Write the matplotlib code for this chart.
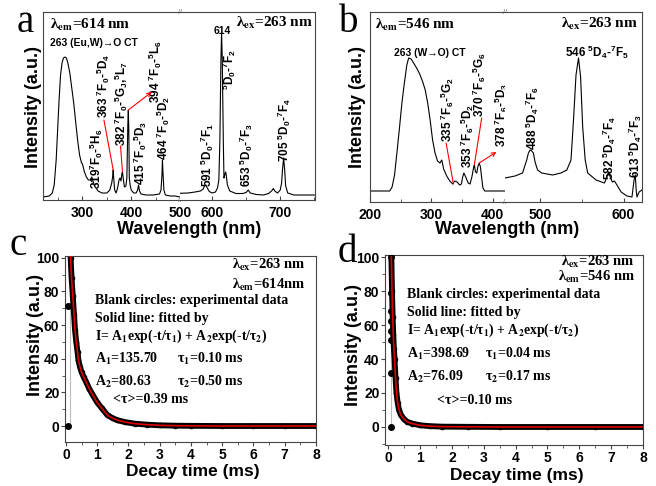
import matplotlib
matplotlib.use('Agg')
import matplotlib.pyplot as plt
from matplotlib.ticker import MultipleLocator, FixedLocator

plt.rcParams['font.family'] = ['Liberation Sans', 'DejaVu Sans']
plt.rcParams['font.weight'] = 'bold'
plt.rcParams['mathtext.fontset'] = 'custom'
plt.rcParams['mathtext.rm'] = 'Liberation Sans:bold'
plt.rcParams['mathtext.it'] = 'Liberation Sans:bold'
plt.rcParams['mathtext.bf'] = 'Liberation Sans:bold'
plt.rcParams['mathtext.default'] = 'rm'

# ---------------- data ----------------
# panel a: excitation (lambda_em = 614 nm)
a_exc_wl = [219, 232, 238, 242, 246, 249, 252, 255, 258, 261, 264, 267, 270, 274, 278, 282, 286, 290,
            294, 298, 300, 302, 304, 308, 312, 316, 319, 322, 326, 332, 340, 350, 356, 360, 362, 363,
            364, 366, 369, 372, 375, 377, 379, 381, 382, 384, 386, 389, 391, 393, 394, 395, 396, 398,
            400, 405, 410, 413, 415, 417, 420, 430, 445, 458, 461, 463, 464, 465, 467, 470, 480, 490, 500]
a_exc_int = [3, 4, 7, 15, 40, 70, 100, 125, 137, 142, 143, 142, 137, 127, 112, 97, 78, 60,
             45, 37, 36, 32, 28, 23, 20, 20, 23, 18, 13, 9, 7, 7, 10, 17, 24, 30,
             22, 10, 7, 12, 20, 22, 19, 27, 28, 20, 13, 14, 22, 75, 90, 70, 22, 14,
             10, 7, 7, 10, 15, 9, 6, 5, 5, 6, 10, 25, 40, 28, 10, 5, 4, 4, 3]
# panel a: emission (lambda_ex = 263 nm)
a_em_wl = [553, 565, 575, 583, 587, 589, 591, 593, 596, 600, 605, 608, 610, 611.5, 613, 614, 615,
           616.5, 617.5, 619, 620, 621, 622.5, 626, 635, 645, 650, 653, 656, 665, 675, 683, 688,
           690, 692, 696, 700, 702, 703.5, 705, 706.5, 708, 711, 720, 735, 751]
a_em_int = [6.7, 7, 8, 9, 11, 14, 15, 12, 8.5, 7, 8, 12, 20, 60, 140, 167, 140,
            60, 22, 26, 28, 24, 15, 9, 6.5, 6.5, 7.5, 10, 7, 5.5, 5, 6.5, 9.5,
            11.5, 9, 7, 10, 17, 32, 42, 30, 14, 7, 5, 5, 5]
# panel b: excitation (lambda_em = 546 nm)
b_exc_wl = [200, 232, 236, 240, 244, 248, 252, 256, 260, 263, 267, 271, 276, 281, 286, 290, 294, 298,
            302, 306, 310, 314, 317, 320, 325, 330, 335, 338, 342, 346, 349, 351, 353, 356, 360, 363,
            366, 369, 370, 372, 374, 376, 378, 380, 382, 384, 387, 420]
b_exc_int = [11, 11, 15, 27, 50, 74, 99, 119, 137, 144, 143, 139, 134, 128, 120, 112, 99, 82,
             62, 49, 41, 39, 42, 33, 26, 21, 18, 21, 20, 17, 18, 25, 29, 25, 19, 18,
             25, 35, 37, 30, 29, 36, 39, 35, 24, 14, 11, 11]
# panel b: emission (lambda_ex = 263 nm)
b_em_wl = [458, 470, 479, 484, 486, 488, 490, 492, 494, 497, 502, 515, 525, 532, 537, 540, 543, 546,
           548.5, 551, 554, 557, 567, 577, 579, 582, 584, 586.5, 589, 592, 597, 604, 610, 612.5,
           614, 615, 616, 618.5, 622]
b_em_int = [24, 26, 29, 42, 49, 52, 51, 49, 40, 32, 29, 27, 29, 32, 42, 82, 127, 144,
            125, 75, 42, 29, 22, 19, 23, 30, 25, 20, 21, 17, 10, 6, 5, 22,
            27, 12, 5, 10, 12]

# panel c: decay (lambda_ex 263 / lambda_em 614)
c_t = [0.12, 0.15, 0.18, 0.22, 0.26, 0.29, 0.33, 0.37, 0.40, 0.45, 0.50, 0.57, 0.65, 0.75, 0.84,
       1.0, 1.15, 1.33, 1.5, 1.65, 1.9, 2.2, 2.6, 3.0, 3.5, 4, 5, 6, 7, 8]
c_I = [112, 100, 88, 77, 66, 57, 50, 44, 39, 35, 32, 29, 26, 22, 19,
       14, 10.5, 6.4, 4.6, 3.4, 2.3, 1.4, 0.8, 0.4, 0.2, 0.1, 0, 0, 0, 0]
c_rise_t = [0.07, 0.07]
c_rise_I = [0, 71]
c_gate_t = [0.13, 0.13]
c_gate_I = [0, 100]
# panel d: decay (lambda_ex 263 / lambda_em 546)
d_t = [0.1, 0.12, 0.14, 0.16, 0.18, 0.2, 0.23, 0.26, 0.3, 0.34, 0.4, 0.5, 0.6, 0.76, 1.0,
       1.3, 1.7, 2.5, 3.5, 5, 6.5, 8]
d_I = [100, 80, 65, 54, 46, 40, 29, 20, 14, 10, 7, 4.5, 3, 2, 1,
       0.5, 0.2, 0.1, 0, 0, 0, 0]
d_rise_t = [0.1, 0.1, 0.1, 0.1, 0.1, 0.1, 0.1, 0.1]
d_rise_I = [0, 31.5, 51, 56.5, 62.4, 68, 79, 100]
d_gate_t = [0.1, 0.1]
d_gate_I = [0, 100]

# ---------------- layout helpers ----------------
W, H = 656, 486
fig = plt.figure(figsize=(W / 100, H / 100), dpi=100)


def box(x0, y0, x1, y1):
    return [x0 / W, 1 - y1 / H, (x1 - x0) / W, (y1 - y0) / H]


def fpos(x, y):
    return x / W, 1 - y / H


def term(a, L, b):
    return '${}^{%s}$%s${}_{%s}$' % (a, L, b)


SPINE = '#444444'
SERIF = ['Liberation Serif', 'DejaVu Serif']


def style_spec(ax, left=True, right=True):
    for s in ax.spines.values():
        s.set_color(SPINE)
        s.set_linewidth(0.8)
    ax.spines['left'].set_visible(left)
    ax.spines['right'].set_visible(right)
    ax.set_yticks([])
    ax.tick_params(axis='x', direction='in', length=3, width=0.8, labelsize=10, pad=4, color=SPINE)
    ax.tick_params(axis='x', which='minor', direction='in', length=2, width=0.6, color=SPINE)


def rlab(ax, x, y, s, fs=8.5):
    ax.text(x, y, s, rotation=90, ha='center', va='bottom', fontsize=fs, fontweight='bold')


def lam(ax, x, y, sub, val, ha, fs=11):
    ax.text(x, y, 'λ$_{\\mathbf{%s}}$=%s' % (sub, val), ha=ha, va='center', fontsize=fs,
            fontweight='bold', family=SERIF, math_fontfamily='stix')


def redline(ax, xy, xytext, arrow=False):
    ax.annotate('', xy=xy, xytext=xytext,
                arrowprops=dict(arrowstyle='->' if arrow else '-', color='red', lw=0.8,
                                shrinkA=0, shrinkB=0, mutation_scale=7))


def breakmarks(ax):
    for yy in (1, 0):
        ax.text(1, yy, '//', transform=ax.transAxes, ha='center', va='center', fontsize=5,
                color='#666666', fontweight='normal')

# ---------------- panel a ----------------
a1 = fig.add_axes(box(43, 12, 180, 200))
a2 = fig.add_axes(box(180, 12, 315, 200))
a1.plot(a_exc_wl, a_exc_int, color='black', lw=0.8)
a2.plot(a_em_wl, a_em_int, color='black', lw=0.8)
a1.set_xlim(219, 500)
a2.set_xlim(553, 751)
for ax in (a1, a2):
    ax.set_ylim(0, 188)
style_spec(a1, right=False)
style_spec(a2, left=False)
a1.xaxis.set_major_locator(FixedLocator([300, 400, 500]))
a1.xaxis.set_minor_locator(FixedLocator([250, 350, 450]))
a2.xaxis.set_major_locator(FixedLocator([600, 700]))
a2.xaxis.set_minor_locator(FixedLocator([650, 750]))
breakmarks(a1)

lam(a1, 233, 175, 'em', '614 nm', 'left')
a1.text(233, 157, '263 (Eu,W)→O CT', ha='left', va='center', fontsize=7.5, fontweight='bold')
rlab(a1, 328, 11, '319' + term('7', 'F', '0') + '-' + term('5', 'H', '6'))
rlab(a1, 343, 82, '363 ' + term('7', 'F', '0') + '-' + term('5', 'D', '4'))
redline(a1, (363, 30), (344, 80))
rlab(a1, 379, 54, '382 ' + term('7', 'F', '0') + '-' + '${}^{5}$G${}_{J}$,' + term('5', 'L', '7'))
redline(a1, (382, 28), (378, 54))
rlab(a1, 449, 97, '394 ' + term('7', 'F', '0') + '-' + term('5', 'L', '6'))
redline(a1, (442, 108), (394, 90), arrow=True)
rlab(a1, 418, 15, '415 ' + term('7', 'F', '0') + '-' + term('5', 'D', '3'))
rlab(a1, 465, 40, '464 ' + term('7', 'F', '0') + '-' + term('5', 'D', '2'))

lam(a2, 748, 177, 'ex', '263 nm', 'right')
rlab(a2, 593, 13, '591 ' + term('5', 'D', '0') + '-' + term('7', 'F', '1'))
a2.text(614.5, 169, '614', ha='center', va='center', fontsize=7.5, fontweight='bold')
rlab(a2, 625, 110, term('5', 'D', '0') + '-' + term('7', 'F', '2'))
rlab(a2, 650, 13, '653 ' + term('5', 'D', '0') + '-' + term('7', 'F', '3'))
rlab(a2, 705.5, 38, '705 ' + term('5', 'D', '0') + '-' + term('7', 'F', '4'))

# ---------------- panel b ----------------
b1 = fig.add_axes(box(370, 12, 505, 202))
b2 = fig.add_axes(box(505, 12, 642, 202))
b1.plot(b_exc_wl, b_exc_int, color='black', lw=0.8)
b2.plot(b_em_wl, b_em_int, color='black', lw=0.8)
b1.set_xlim(200, 420)
b2.set_xlim(458, 622)
for ax in (b1, b2):
    ax.set_ylim(0, 190)
style_spec(b1, right=False)
style_spec(b2, left=False)
b1.xaxis.set_major_locator(FixedLocator([200, 300, 400]))
b1.xaxis.set_minor_locator(FixedLocator([250, 350]))
b2.xaxis.set_major_locator(FixedLocator([500, 600]))
b2.xaxis.set_minor_locator(FixedLocator([550]))
breakmarks(b1)

lam(b1, 208, 177, 'em', '546 nm', 'left')
b1.text(298, 149, '263 (W→O) CT', ha='center', va='center', fontsize=7.5, fontweight='bold')
rlab(b1, 325.5, 60, '335 ' + term('7', 'F', '6') + '-' + term('5', 'G', '2'))
redline(b1, (336, 18), (324, 59))
rlab(b1, 358, 34, '353 ' + term('7', 'F', '6') + '-' + term('5', 'D', '2'))
rlab(b1, 379, 85, '370 ' + term('7', 'F', '6') + '-' + term('5', 'G', '6'))
redline(b1, (370, 37), (382, 84))
rlab(b1, 413.5, 55, '378 ' + term('7', 'F', '6') + '-' + term('5', 'D', '3'))
redline(b1, (406, 50), (378, 39), arrow=True)

lam(b2, 617, 178, 'ex', '263 nm', 'right')
rlab(b2, 490.5, 52, '488 ' + term('5', 'D', '4') + '-' + term('7', 'F', '6'))
b2.text(530, 150, '546 ' + term('5', 'D', '4') + '-' + term('7', 'F', '5'), ha='left', va='center',
        fontsize=8.5, fontweight='bold')
rlab(b2, 582.5, 22, '582 ' + term('5', 'D', '4') + '-' + term('7', 'F', '4'))
rlab(b2, 613.6, 24, '613 ' + term('5', 'D', '4') + '-' + term('7', 'F', '3'))

# ---------------- panels c, d ----------------
c = fig.add_axes(box(65, 256, 316, 442))
d = fig.add_axes(box(385, 255, 643, 445))


def decay(ax, t, I, rt, rI, gt, gI, x0):
    ax.plot(gt, gI, color='#bbbbbb', lw=0.8, zorder=1)
    ax.plot(t, I, color='black', lw=4.2, solid_capstyle='round', solid_joinstyle='round', zorder=2)
    ax.plot(t, I, 'o', color='black', ms=3, zorder=2)
    ax.plot(rt, rI, 'o', color='black', ms=4, zorder=3)
    ax.plot(t, I, color='#e00000', lw=1.2, zorder=4)
    for s in ax.spines.values():
        s.set_color(SPINE)
        s.set_linewidth(0.8)
    ax.set_xlim(x0, 8)
    ax.xaxis.set_major_locator(MultipleLocator(1))
    ax.xaxis.set_minor_locator(MultipleLocator(0.5))
    ax.yaxis.set_major_locator(MultipleLocator(20))
    ax.yaxis.set_minor_locator(MultipleLocator(10))
    ax.tick_params(which='major', direction='out', length=3, width=0.8, labelsize=10, pad=1,
                   color=SPINE)
    ax.tick_params(which='minor', direction='out', length=2, width=0.6, color=SPINE)


decay(c, c_t, c_I, c_rise_t, c_rise_I, c_gate_t, c_gate_I, -0.03)
decay(d, d_t, d_I, d_rise_t, d_rise_I, d_gate_t, d_gate_I, -0.1)
c.set_ylim(-9.5, 101)
d.set_ylim(-10.6, 101.2)


def stext(ax, x, y, s, ha='left', fs=10):
    ax.text(x, y, s, ha=ha, va='center', fontsize=fs, fontweight='bold', family=SERIF,
            math_fontfamily='stix')


FORM = 'I= A$_{\\mathbf{1}}$exp(-t/τ$_{\\mathbf{1}}$) + A$_{\\mathbf{2}}$exp(-t/τ$_{\\mathbf{2}}$)'
lam(c, 7.67, 95.8, 'ex', '263 nm', 'right', fs=10.5)
lam(c, 7.67, 84, 'em', '614nm', 'right', fs=10.5)
stext(c, 0.93, 74.6, 'Blank circles: experimental data')
stext(c, 0.93, 63.7, 'Solid line: fitted by')
stext(c, 0.93, 53, FORM, fs=9.8)
stext(c, 0.93, 39.9, 'A$_{\\mathbf{1}}$=135.70')
stext(c, 3.55, 39.9, 'τ$_{\\mathbf{1}}$=0.10 ms')
stext(c, 0.93, 26.4, 'A$_{\\mathbf{2}}$=80.63')
stext(c, 3.55, 26.4, 'τ$_{\\mathbf{2}}$=0.50 ms')
stext(c, 1.5, 15.5, '<τ>=0.39 ms')

lam(d, 7.74, 97, 'ex', '263 nm', 'right', fs=10.5)
lam(d, 7.74, 88, 'em', '546 nm', 'right', fs=10.5)
stext(d, 0.6, 78.2, 'Blank circles: experimental data')
stext(d, 0.6, 67.6, 'Solid line: fitted by')
stext(d, 0.6, 57, FORM, fs=9.8)
stext(d, 0.6, 43, 'A$_{\\mathbf{1}}$=398.69')
stext(d, 3.04, 43, 'τ$_{\\mathbf{1}}$=0.04 ms')
stext(d, 0.6, 29.4, 'A$_{\\mathbf{2}}$=76.09')
stext(d, 3.04, 29.4, 'τ$_{\\mathbf{2}}$=0.17 ms')
stext(d, 1.54, 15.3, '<τ>=0.10 ms')

# ---------------- axis labels & panel letters ----------------
for (x, y) in [(33, 107), (357, 107), (35, 335), (354, 345)]:
    fig.text(*fpos(x, y), 'Intensity (a.u.)', rotation=90, ha='center', va='center',
             fontsize=13, fontweight='bold')
for (x, y) in [(189, 230), (507, 230)]:
    fig.text(*fpos(x, y), 'Wavelength (nm)', ha='center', va='center', fontsize=13, fontweight='bold')
for (x, y) in [(193, 471), (517, 475)]:
    fig.text(*fpos(x, y), 'Decay time (ms)', ha='center', va='center', fontsize=12.5, fontweight='bold')

for (x, y, s) in [(25, 32, 'a'), (349, 32, 'b'), (18, 255, 'c'), (347, 262, 'd')]:
    fig.text(*fpos(x, y), s, ha='center', va='baseline', fontsize=28, fontweight='normal',
             family=SERIF)

fig.savefig('out.png', dpi=100)
